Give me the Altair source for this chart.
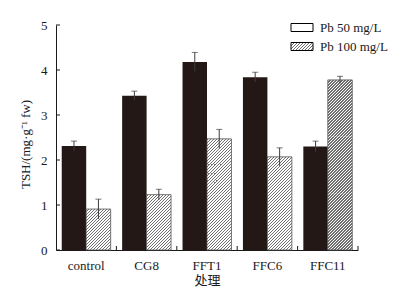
import math
import altair as alt
import pandas as pd

# ---- data ----
categories = ["control", "CG8", "FFT1", "FFC6", "FFC11"]
series = ["Pb 50 mg/L", "Pb 100 mg/L"]
pb50 = [2.31, 3.43, 4.18, 3.84, 2.30]
pb50_err = [0.11, 0.10, 0.21, 0.11, 0.12]
pb100 = [0.91, 1.23, 2.47, 2.07, 3.78]
pb100_err = [0.22, 0.12, 0.21, 0.20, 0.08]
y_ticks = [0, 1, 2, 3, 4, 5]

rows = []
for i, c in enumerate(categories):
    rows.append(dict(cat=c, s=series[0], v=pb50[i], e=pb50_err[i]))
    rows.append(dict(cat=c, s=series[1], v=pb100[i], e=pb100_err[i]))
df = pd.DataFrame(rows)
df["lo"] = df["v"] - df["e"]
df["hi"] = df["v"] + df["e"]

# ---- layout / style ----
W, H = 302, 225
PI, PO = 0.19, 0.095
step = W / (len(categories) - PI + 2 * PO)
bandw = step * (1 - PI)
bar_w = bandw / 2
px_per_unit = H / 5.0
SERIF = "Liberation Serif, Times New Roman, Noto Sans CJK SC, serif"
BLACK = "#231815"
TXT = "#1a1a1a"
YS = alt.Scale(domain=[0, 5], nice=False)
PERIOD = 3.0
MAX_SEG_PX = 80.0


def hatch(w, h, phase=0.0, period=PERIOD, line=1.3, dark="#707070", light="#ffffff"):
    """Diagonal '///' stripes as a linear gradient in bounding-box units."""
    b = h / w
    a = (w + h) / (w * (1 + b * b))
    total = w + h
    stops = []
    s = (phase % period) - period
    while s < total:
        t0 = min(max(s / total, 0.0), 1.0)
        t1 = min(max((s + line) / total, 0.0), 1.0)
        t2 = min(max((s + period) / total, 0.0), 1.0)
        stops += [
            alt.GradientStop(offset=t0, color=dark),
            alt.GradientStop(offset=t1, color=dark),
            alt.GradientStop(offset=t1, color=light),
            alt.GradientStop(offset=t2, color=light),
        ]
        s += period
    return alt.LinearGradient(gradient="linear", stops=stops, x1=0, y1=0, x2=a, y2=a * b)


x_enc = alt.X(
    "cat:N",
    sort=categories,
    scale=alt.Scale(paddingInner=PI, paddingOuter=PO),
    axis=alt.Axis(
        title="处理", labelAngle=0, ticks=False,
        domainColor=TXT, labelColor=TXT, titleColor=TXT,
        labelFont=SERIF, labelFontSize=13, labelPadding=9,
        titleFont=SERIF, titleFontSize=13, titleFontWeight="normal",
        titleY=24, titleBaseline="top",
    ),
)
xo_enc = alt.XOffset("s:N", sort=series, scale=alt.Scale(domain=series, paddingInner=0, paddingOuter=0))
y_enc = alt.Y(
    "v:Q",
    scale=YS,
    axis=alt.Axis(
        values=y_ticks, format="d", grid=False, ticks=False,
        domainColor=TXT, labelColor=TXT, titleColor=TXT,
        labelFont=SERIF, labelFontSize=13, labelPadding=9,
        title="TSH/(mg·g⁻¹ fw)", titleFont=SERIF, titleFontSize=13,
        titleFontWeight="normal", titleX=-31, titleY=119,
        titleBaseline="middle", titleAlign="center",
    ),
)

base = alt.Chart(df)

black_bars = base.transform_filter(alt.datum.s == series[0]).mark_bar(fill=BLACK).encode(
    x=x_enc, xOffset=xo_enc, y=y_enc,
)

# hatched bars: split tall bars into segments so each gradient stays short
hatched = []
for i, c in enumerate(categories):
    v = pb100[i]
    n = max(1, math.ceil(v * px_per_unit / MAX_SEG_PX))
    for k in range(n):
        lo_v = v * k / n
        hi_v = v * (k + 1) / n
        seg_h = (hi_v - lo_v) * px_per_unit
        phase = hi_v * px_per_unit  # keep stripes continuous across segments
        seg_df = pd.DataFrame({"cat": [c], "s": [series[1]], "a": [lo_v], "b": [hi_v]})
        hatched.append(
            alt.Chart(seg_df).mark_bar(fill=hatch(bar_w, seg_h, phase=phase), strokeWidth=0)
            .encode(x=x_enc, xOffset=xo_enc, y=alt.Y("b:Q", scale=YS), y2="a:Q")
        )
outline = base.transform_filter(alt.datum.s == series[1]).mark_bar(
    fill=None, fillOpacity=0, stroke="#555555", strokeWidth=0.8
).encode(x=x_enc, xOffset=xo_enc, y=y_enc)

err = base.mark_rule(color="#3c3c3c", strokeWidth=1).encode(
    x=x_enc, xOffset=xo_enc, y=alt.Y("lo:Q", scale=YS), y2="hi:Q"
)
caps = base.mark_tick(color="#3c3c3c", thickness=1, size=6, orient="horizontal").encode(
    x=x_enc, xOffset=xo_enc, y=alt.Y("hi:Q", scale=YS)
)

# inward axis ticks
ytick_df = pd.DataFrame({"t": y_ticks})
yticks = alt.Chart(ytick_df).mark_rule(color=TXT, strokeWidth=1).encode(
    y=alt.Y("t:Q", scale=YS), x=alt.value(0), x2=alt.value(4)
)
xtick_df = pd.DataFrame({"cat": categories})
xticks = alt.Chart(xtick_df).mark_rule(color=TXT, strokeWidth=1, xOffset=PI * step / 2).encode(
    x=alt.X("cat:N", sort=categories, bandPosition=1),
    y=alt.value(H), y2=alt.value(H - 4),
)

# legend (drawn as marks, top right)
leg_df = pd.DataFrame({"s": series})
LX0, LX1, LTX = 235, 257, 264
ROW_Y = [2.5, 21.5]
leg_layers = []
for k, name in enumerate(series):
    fill = "white" if k == 0 else hatch(22, 8)
    leg_layers.append(
        alt.Chart(leg_df).transform_filter(alt.datum.s == name)
        .mark_rect(fill=fill, stroke="black", strokeWidth=1)
        .encode(x=alt.value(LX0), x2=alt.value(LX1),
                y=alt.value(ROW_Y[k] - 4), y2=alt.value(ROW_Y[k] + 4))
    )
    leg_layers.append(
        alt.Chart(leg_df).transform_filter(alt.datum.s == name)
        .mark_text(align="left", baseline="middle", font=SERIF, fontSize=13, color=TXT)
        .encode(text="s:N", x=alt.value(LTX), y=alt.value(ROW_Y[k]))
    )

chart = alt.layer(black_bars, *hatched, outline, err, caps, yticks, xticks, *leg_layers).properties(
    width=W, height=H,
    padding={"left": 56, "top": 25, "right": 52, "bottom": 44},
    autosize=alt.AutoSizeParams(type="none"),
    background="white",
).configure_view(stroke=None)

chart.save("out.html", embed_options={"renderer": "svg", "actions": False})
